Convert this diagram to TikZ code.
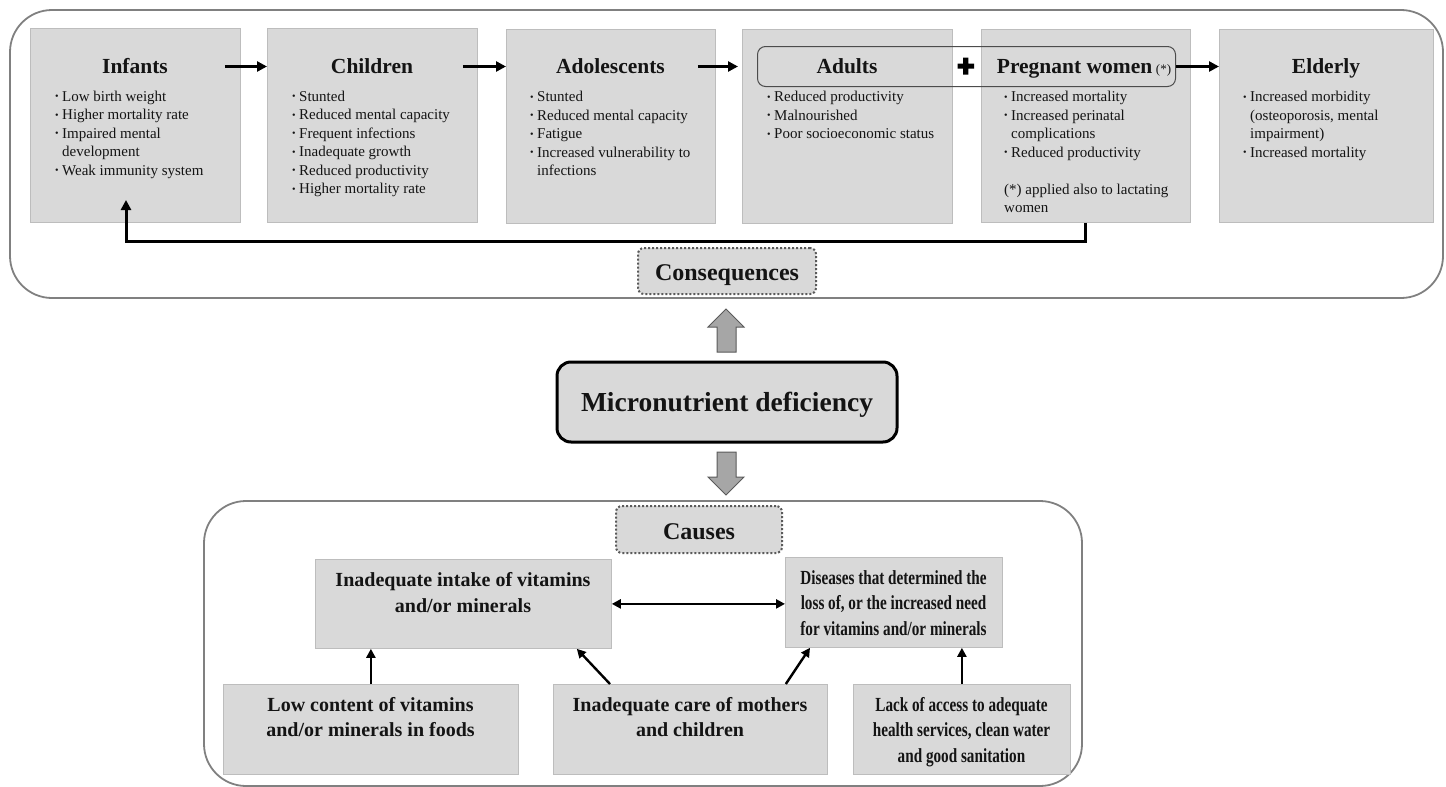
\documentclass[tikz,border=0pt]{standalone}
\usepackage{fontspec}
\setmainfont{Liberation Serif}
\newfontfamily\cnd[FakeStretch=0.76]{Liberation Serif}
\usetikzlibrary{arrows.meta,calc}
\definecolor{boxfill}{HTML}{D9D9D9}
\definecolor{boxline}{HTML}{BDBDBD}
\definecolor{outline}{HTML}{808080}
\definecolor{dotline}{HTML}{5A5A5A}
\definecolor{blockfill}{HTML}{A6A6A6}
\definecolor{ink}{HTML}{141414}
\newcommand\bul{\raisebox{1.5pt}{\fontsize{10}{10}\selectfont\textbullet}}
\newcommand\blist[1]{\begin{tabular}[t]{@{}l@{\hspace{3.5pt}}l@{}}#1\end{tabular}}
\newcommand\ctab[1]{\begin{tabular}[t]{@{}c@{}}#1\end{tabular}}
\newcommand\fullrow[1]{\multicolumn{2}{@{}l@{}}{#1}}
\begin{document}
\begin{tikzpicture}[x=1pt,y=-1pt,
  outer/.style={draw=outline, line width=1.8pt, rounded corners=42pt},
  gbox/.style={draw=boxline, fill=boxfill, line width=0.8pt, anchor=north west, inner sep=0pt},
  ttl/.style={anchor=base, inner sep=0pt, font=\fontsize{21.5}{25}\selectfont\bfseries, text=ink},
  lst/.style={anchor=base west, inner sep=0pt, font=\fontsize{15}{18.5}\selectfont, text=ink},
  ctxt/.style={anchor=base, inner sep=0pt, font=\fontsize{20}{25.5}\selectfont\bfseries, text=ink},
  cctxt/.style={anchor=base, inner sep=0pt, font=\cnd\fontsize{20}{25.8}\selectfont\bfseries, text=ink},
  arr/.style={draw=black, line width=3pt, -{Triangle[length=10pt,width=10pt]}},
  arrc/.style={draw=black, line width=2.4pt, -{Triangle[length=9pt,width=9pt]}},
  lbl/.style={draw=dotline, dotted, line width=2pt, fill=boxfill, rounded corners=6pt, anchor=north west, inner sep=0pt, font=\fontsize{24}{28}\selectfont\bfseries, text=ink, text depth=0pt},
  block/.style={fill=blockfill, draw=dotline, line width=1pt}
]
\useasboundingbox (0,0) rectangle (1446,787);

% containers
\draw[outer] (10,10) rectangle (1443,298);
\draw[outer] (204,501) rectangle (1082,786);

% top boxes
\node[gbox, minimum width=210, minimum height=194] (inf) at (30,28) {};
\node[gbox, minimum width=210, minimum height=194] (ch) at (267,28) {};
\node[gbox, minimum width=209, minimum height=194] (ado) at (506,29) {};
\node[gbox, minimum width=210, minimum height=194] (adu) at (742,29) {};
\node[gbox, minimum width=209, minimum height=193] (pre) at (981,29) {};
\node[gbox, minimum width=214, minimum height=193] (eld) at (1219,29) {};

% titles
\node[ttl] (infT) at (135,73.5) {Infants};
\node[ttl] (chT) at (372,73.5) {Children};
\node[ttl] (adoT) at (610.5,73.5) {Adolescents};
\node[ttl] (aduT) at (847,73.5) {Adults};
\node[ttl] (preT) at (1084,73.5) {Pregnant women\,{\fontsize{13}{13}\selectfont\mdseries(*)}};
\node[ttl] (eldT) at (1326,73.5) {Elderly};

% lists
\node[lst] (infL) at (55,101) {\blist{\bul & Low birth weight\\ \bul & Higher mortality rate\\ \bul & Impaired mental\\ & development\\ \bul & Weak immunity system}};
\node[lst] (chL) at (292,101) {\blist{\bul & Stunted\\ \bul & Reduced mental capacity\\ \bul & Frequent infections\\ \bul & Inadequate growth\\ \bul & Reduced productivity\\ \bul & Higher mortality rate}};
\node[lst] (adoL) at (530,101.5) {\blist{\bul & Stunted\\ \bul & Reduced mental capacity\\ \bul & Fatigue\\ \bul & Increased vulnerability to\\ & infections}};
\node[lst] (aduL) at (767,101.5) {\blist{\bul & Reduced productivity\\ \bul & Malnourished\\ \bul & Poor socioeconomic status}};
\node[lst] (preL) at (1004,101.5) {\blist{\bul & Increased mortality\\ \bul & Increased perinatal\\ & complications\\ \bul & Reduced productivity\\ & \\ \fullrow{(*) applied also to lactating}\\ \fullrow{women}}};
\node[lst] (eldL) at (1243,101.5) {\blist{\bul & Increased morbidity\\ & (osteoporosis, mental\\ & impairment)\\ \bul & Increased mortality}};

% adults + pregnant grouping
\node[draw=black!70, line width=1pt, rounded corners=8pt, anchor=north west, inner sep=0pt, minimum width=418, minimum height=40] (ap) at (757,46) {};
\fill[black] (957.5,63.5) rectangle (974,68.5) (963.2,57.5) rectangle (968.3,74.5);

% top arrows
\draw[arr] ($(inf.east |- ap.east)+(-16,0)$) -- (ch.west |- ap.east);
\draw[arr] ($(ch.east |- ap.east)+(-15,0)$) -- (ado.west |- ap.east);
\draw[arr] ($(ado.east |- ap.east)+(-18,0)$) -- ($(adu.west |- ap.east)+(-4,0)$);
\draw[arr] (ap.east) -- (eld.west |- ap.east);
\coordinate (fbY) at (0,241);
\coordinate (fbEnd) at (126,200);
\draw[arr] (pre.south) -- (pre.south |- fbY) -| (fbEnd);

% consequences label
\node[lbl, minimum width=178, minimum height=46, text height=18.6pt] (cons) at (637,247) {Consequences};

% central node
\node[draw=black, line width=3pt, fill=boxfill, rounded corners=14pt, minimum width=340, minimum height=80, inner sep=0pt, font=\fontsize{27.5}{30}\selectfont\bfseries, text=ink, text height=19.4pt, text depth=0pt] (mic) at (727,402) {Micronutrient deficiency};

% block arrows
\draw[block] (717,352) -- (717,327) -- (708,327) -- (726,309) -- (744,327) -- (736,327) -- (736,352) -- cycle;
\draw[block] (717,452) -- (717,477) -- (708,477) -- (726,495) -- (744,477) -- (736,477) -- (736,452) -- cycle;

% causes label
\node[lbl, minimum width=166, minimum height=47, text height=19.5pt] (caus) at (615,505) {Causes};

% causes boxes
\node[gbox, minimum width=296, minimum height=89] (intake) at (315,559) {};
\node[gbox, minimum width=217, minimum height=90] (dis) at (785,557) {};
\node[gbox, minimum width=295, minimum height=90] (low) at (223,684) {};
\node[gbox, minimum width=274, minimum height=90] (care) at (553,684) {};
\node[gbox, minimum width=217, minimum height=90] (lack) at (853,684) {};

\node[ctxt] (intakeT) at (463,586.5) {\ctab{Inadequate intake of vitamins\\and/or minerals}};
\node[cctxt] (disT) at (893.5,584) {\ctab{Diseases that determined the\\loss of, or the increased need\\for vitamins and/or minerals}};
\node[ctxt] (lowT) at (370.5,711) {\ctab{Low content of vitamins\\and/or minerals in foods}};
\node[ctxt] (careT) at (690,711) {\ctab{Inadequate care of mothers\\and children}};
\node[cctxt] (lackT) at (961.5,711) {\ctab{Lack of access to adequate\\health services, clean water\\and good sanitation}};

% causes arrows
\draw[arrc, {Triangle[length=9pt,width=9pt]}-{Triangle[length=9pt,width=9pt]}] (intake.east) -- (dis.west |- intake.east);
\draw[arrc] (low.north) -- (low.north |- intake.south);
\draw[arrc] ($(care.north west)+(57,0)$) -- ($(intake.south east)+(-35,0)$);
\draw[arrc] ($(care.north east)+(-42,0)$) -- ($(dis.south west)+(25,0)$);
\draw[arrc] (lack.north) -- (lack.north |- dis.south);
\end{tikzpicture}
\end{document}
